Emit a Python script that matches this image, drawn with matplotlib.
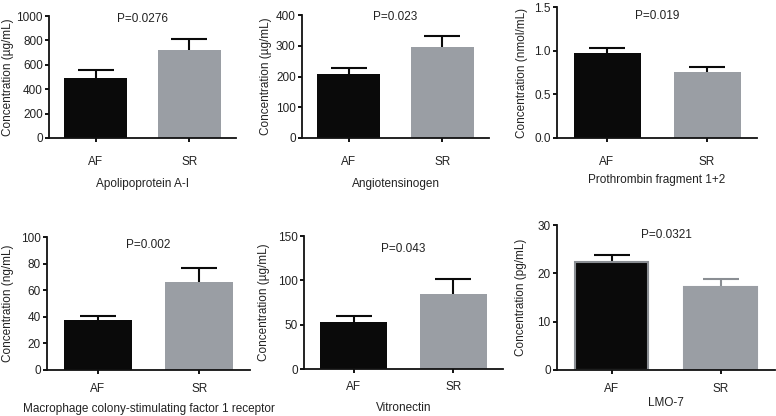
import matplotlib
matplotlib.use("Agg")
import matplotlib.pyplot as plt

plt.rcParams['font.family'] = ['Liberation Sans', 'DejaVu Sans']
plt.rcParams['font.size'] = 8.5

groups = ["AF", "SR"]

titles = ["Apolipoprotein A-I", "Angiotensinogen", "Prothrombin fragment 1+2",
          "Macrophage colony-stimulating factor 1 receptor", "Vitronectin", "LMO-7"]
units = ["µg/mL", "µg/mL", "nmol/mL", "ng/mL", "µg/mL", "pg/mL"]
p_values = ["P=0.0276", "P=0.023", "P=0.019", "P=0.002", "P=0.043", "P=0.0321"]

means = [[495, 725], [208, 296], [0.97, 0.76], [37.5, 66], [53, 85], [22.3, 17.2]]
errors = [[65, 85], [20, 36], [0.06, 0.05], [3, 11], [7, 16], [1.5, 1.7]]

y_max = [1000, 400, 1.5, 100, 150, 30]
y_step = [200, 100, 0.5, 20, 50, 10]
y_fmt = ["{:.0f}", "{:.0f}", "{:.1f}", "{:.0f}", "{:.0f}", "{:.0f}"]
p_y = [975, 395, 1.4, 94, 135, 27.9]

# axes boxes in pixels: left, right, top, bottom
boxes = [(49, 236, 16, 138), (302, 489, 15, 138), (557, 757, 7, 138),
         (47, 250, 237, 370), (304, 503, 236, 369), (557, 775, 225, 370)]
ylabel_x = [8, 266, 522, 8, 264, 521]
tick_pad = [10, 10, 10, 6, 6, 6]
xlabel_pad = [7, 7, 4, 6, 6, 2]

W, H = 776, 416
BLACK = "#0a0a0a"
GREY = "#9a9ea4"
TXT = "#222222"

fig = plt.figure(figsize=(W / 100, H / 100), dpi=100)

for i in range(6):
    l, r, t, b = boxes[i]
    ax = fig.add_axes([l / W, (H - b) / H, (r - l) / W, (b - t) / H])
    colors = [BLACK, GREY]
    edge = [BLACK, GREY]
    err_col = [BLACK, BLACK]
    if i == 5:
        edge = ["#8a8e93", GREY]
        err_col = [BLACK, "#8a8e93"]
    for j in range(2):
        ax.bar(j, means[i][j], width=0.67, color=colors[j], edgecolor=edge[j],
               linewidth=1.5 if i == 5 else 0, zorder=2)
        eb = ax.errorbar(j, means[i][j], yerr=[[0], [errors[i][j]]], fmt='none',
                         ecolor=err_col[j], elinewidth=1.5, capsize=13, capthick=1.5, zorder=1)
        eb[1][0].set_visible(False)  # no lower cap
    ax.set_xlim(-0.5, 1.5)
    ax.set_ylim(0, y_max[i])
    ticks = [k * y_step[i] for k in range(int(round(y_max[i] / y_step[i])) + 1)]
    ax.set_yticks(ticks)
    ax.set_yticklabels([y_fmt[i].format(v) for v in ticks])
    ax.set_xticks([0, 1])
    ax.set_xticklabels(groups)
    for s in ["top", "right"]:
        ax.spines[s].set_visible(False)
    for s in ["left", "bottom"]:
        ax.spines[s].set_linewidth(1.3)
        ax.spines[s].set_color("#111111")
    ax.tick_params(axis='y', length=3, width=1.3, pad=1.5, labelcolor=TXT)
    ax.tick_params(axis='x', length=3, width=1.3, pad=tick_pad[i], labelcolor=TXT)
    ax.set_xlabel(titles[i], labelpad=xlabel_pad[i], color=TXT)
    ax.set_ylabel("Concentration (" + units[i] + ")", color=TXT, va='center')
    ax.yaxis.set_label_coords((ylabel_x[i] - l) / (r - l), 0.5)
    ax.text(0.5, p_y[i], p_values[i], ha='center', va='center', color=TXT)

fig.savefig("out.png", dpi=100)
